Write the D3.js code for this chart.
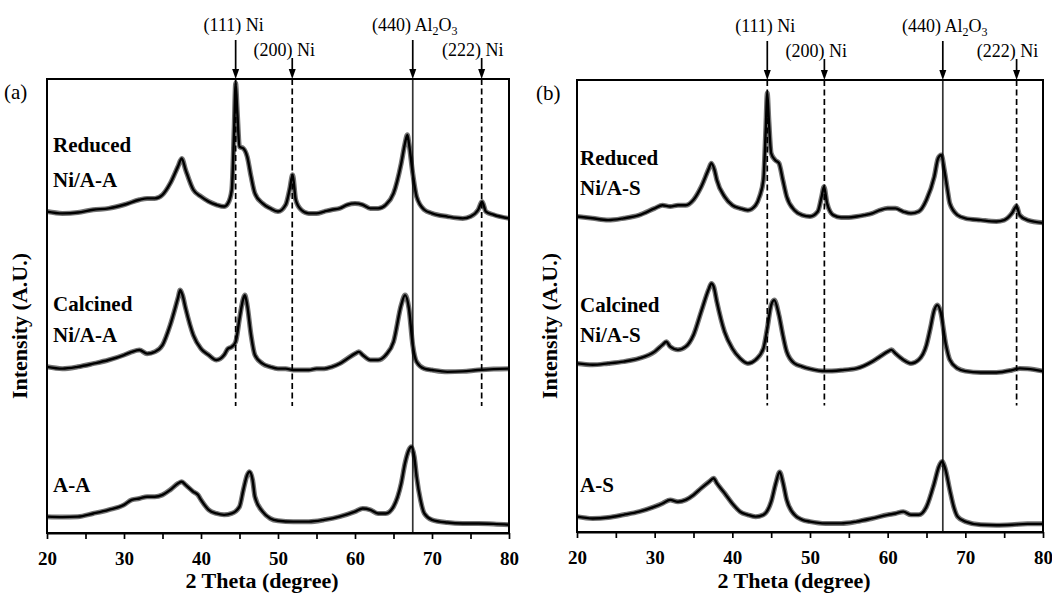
<!DOCTYPE html>
<html>
<head>
<meta charset="utf-8">
<script src="https://cdn.jsdelivr.net/npm/d3@7"></script>
<style>
  body { margin: 0; background: #fff; }
  svg { display: block; }
  text { font-family: "Liberation Serif", "Times New Roman", "DejaVu Serif", serif; fill: #000; }
</style>
</head>
<body>
<svg id="chart" width="1052" height="594"></svg>
<script>
// ---- data (2 theta in degree, intensity in A.U. as stacked in the figure) ----
const theta_range = [20, 80];
const theta_ticks = [20, 25, 30, 35, 40, 45, 50, 55, 60, 65, 70, 75, 80];

const ref_names = ["(111) Ni", "(200) Ni", "(440) Al2O3", "(222) Ni"];
const ref_phase = ["Ni", "Ni", "Al2O3", "Ni"];
const ref_pos_a = [44.5, 51.85, 67.5, 76.45];
const ref_pos_b = [44.5, 51.85, 67.1, 76.6];

const names_a = [["Reduced", "Ni/A-A"], ["Calcined", "Ni/A-A"], ["A-A"]];
const names_b = [["Reduced", "Ni/A-S"], ["Calcined", "Ni/A-S"], ["A-S"]];

const reduced_AA = [[20,70.8],[22,70.4],[24,70.6],[26,71.2],[28,71.5],[30,72.3],[32,73.4],[33,73.7],[34,73.7],[35,74.5],[36,77.0],[37,80.7],[37.5,82.5],[38,80.0],[39,75.6],[40,74.1],[41,73.0],[42,72.3],[43,71.9],[43.5,72.6],[44,75.6],[44.3,88.8],[44.5,99.1],[44.7,93.2],[45,85.1],[45.5,84.7],[46,82.9],[46.5,78.5],[47,74.8],[48,72.6],[49,71.5],[50,70.8],[51,72.3],[51.5,75.6],[51.9,78.9],[52.3,73.4],[53,71.2],[54,70.4],[55,70.4],[56,70.8],[57,71.2],[58,71.5],[59,72.3],[60,72.6],[61,72.3],[62,71.5],[63,71.5],[64,72.3],[65,74.8],[66,81.4],[66.5,85.9],[66.8,87.7],[67,85.9],[67.5,79.2],[68,74.1],[69,71.2],[70,70.4],[72,69.7],[74,69.3],[75,69.7],[76,71.2],[76.5,73.0],[77,70.8],[78,70.1],[80,69.3]];

const calcined_AA = [[20,36.6],[22,36.2],[24,36.6],[26,37.3],[28,38.1],[30,39.2],[31,39.9],[32,40.3],[33,39.5],[34,39.9],[35,41.4],[36,45.8],[37,51.7],[37.3,53.5],[37.6,52.4],[38,49.5],[39,43.6],[40,40.6],[41,39.2],[42,38.1],[43,39.2],[43.5,40.6],[44,41.0],[44.5,42.1],[45,47.2],[45.5,51.7],[45.7,52.4],[46,50.2],[46.5,43.6],[47,39.2],[48,37.3],[49,36.6],[50,36.2],[51,36.2],[52,35.9],[53,35.9],[54,35.9],[55,36.2],[56,36.2],[57,36.6],[58,37.3],[59,38.4],[60,39.5],[60.5,39.9],[61,39.2],[62,38.1],[63,38.1],[64,39.2],[65,42.1],[66,50.2],[66.5,52.4],[67,49.5],[67.5,41.4],[68,37.7],[69,36.2],[70,35.9],[72,35.5],[74,35.6],[76,35.9],[78,36.1],[80,36.2]];

const support_AA = [[20,3.6],[22,3.5],[24,3.6],[26,4.3],[28,5.1],[30,6.2],[31,7.3],[32,7.6],[33,8.0],[34,8.0],[35,8.4],[36,9.5],[37,10.9],[37.5,11.3],[38,10.6],[39,9.1],[39.6,8.4],[40,7.3],[41,5.1],[42,4.3],[43,4.0],[44,4.3],[45,5.8],[45.5,9.5],[46,12.8],[46.3,13.5],[46.7,11.7],[47,8.0],[48,4.7],[49,3.2],[50,2.7],[52,2.5],[54,2.5],[56,2.9],[58,3.6],[60,4.7],[61,5.4],[62,5.1],[63,4.3],[64,4.3],[65,5.8],[66,10.9],[66.5,15.4],[67,18.3],[67.3,19.0],[67.7,16.8],[68,12.4],[68.5,7.3],[69,4.3],[70,2.9],[72,2.3],[74,2.1],[76,2.1],[78,2.0],[80,1.8]];

const reduced_AS = [[20,69.8],[22,69.4],[24,69.0],[26,69.4],[28,70.1],[30,71.6],[31,72.3],[32,72.0],[33,72.3],[34,72.3],[35,73.5],[36,76.4],[37,80.5],[37.3,81.6],[37.7,80.1],[38,77.9],[39,74.2],[40,72.3],[41,71.6],[42,71.2],[43,72.3],[43.5,74.2],[44,77.9],[44.3,88.9],[44.5,97.1],[44.7,91.2],[45,83.8],[45.5,82.3],[46,81.6],[46.5,77.9],[47,74.2],[48,71.2],[49,70.1],[50,69.8],[51,70.9],[51.5,74.2],[51.8,76.4],[52.2,72.7],[53,70.1],[54,69.6],[55,69.6],[56,69.8],[57,70.1],[58,70.5],[59,71.2],[60,71.6],[61,71.6],[62,70.9],[63,70.5],[64,70.9],[65,73.5],[66,78.6],[66.5,82.7],[66.9,83.4],[67.3,80.1],[67.7,75.7],[68,72.7],[69,70.1],[70,69.4],[72,69.0],[74,68.7],[75,69.0],[76,70.5],[76.6,72.1],[77,70.1],[78,69.0],[80,68.4]];

const calcined_AS = [[20,37.3],[22,37.0],[24,37.3],[26,37.7],[28,38.4],[30,39.9],[31,41.4],[31.5,42.1],[32,41.0],[33,40.3],[34,41.0],[35,43.6],[36,48.8],[37,53.9],[37.3,55.0],[37.6,54.3],[38,51.0],[39,44.3],[40,40.6],[41,38.4],[42,37.3],[43,38.1],[44,40.6],[44.5,45.1],[45,50.2],[45.4,51.3],[46,48.0],[46.5,43.6],[47,39.9],[48,37.3],[49,36.6],[50,36.1],[52,35.6],[54,35.8],[56,36.2],[58,37.7],[59,38.8],[60,39.9],[60.5,40.3],[61,39.5],[62,38.1],[63,37.3],[64,38.1],[65,41.4],[65.5,45.1],[66,49.1],[66.4,50.2],[66.8,48.8],[67.5,41.4],[68,38.1],[69,36.2],[70,35.6],[72,35.3],[74,35.3],[76,35.8],[77,36.2],[78,36.1],[80,35.6]];

const support_AS = [[20,3.4],[22,3.0],[24,3.2],[26,3.8],[28,4.5],[30,5.6],[31,6.3],[32,7.1],[33,6.7],[34,7.1],[35,8.2],[36,9.7],[37,11.1],[37.6,11.9],[38,10.8],[39,8.6],[40,6.3],[41,4.5],[42,3.8],[43,3.4],[44,3.8],[45,6.7],[45.6,10.8],[46.1,13.3],[46.5,11.1],[47,7.1],[48,3.8],[49,2.7],[50,2.3],[52,1.9],[54,1.9],[56,2.3],[58,3.0],[60,3.8],[61,4.1],[62,4.5],[63,3.8],[64,3.8],[65,5.6],[66,10.8],[66.6,14.5],[67,15.6],[67.4,14.1],[68,9.3],[68.5,5.6],[69,3.4],[70,2.3],[72,1.6],[74,1.5],[76,1.6],[78,1.8],[80,1.8]];

// ---- chart ----
class XRDPanel {

    constructor( config, data ) {
        this.config = {
            parent: config.parent,
            left: config.left,
            top: config.top,
            width: config.width,
            height: config.height,
            tag: config.tag,
            tag_x: config.tag_x,
            name_x: config.name_x,
            name_y: config.name_y,
        }
        this.data = data;
        this.init();
    }

    init() {
        let self = this;

        self.chart = self.config.parent.append('g')
            .attr('transform', `translate(${self.config.left}, ${self.config.top})`);

        self.xscale = d3.scaleLinear()
            .domain( theta_range )
            .range( [0, self.config.width] );

        self.yscale = d3.scaleLinear()
            .domain( [0, 100] )
            .range( [self.config.height, 0] );

        self.xaxis = d3.axisBottom( self.xscale )
            .tickValues( theta_ticks )
            .tickSize( 6 )
            .tickSizeOuter( 0 )
            .tickFormat( d => d % 10 === 0 ? d : '' );

        self.xaxis_group = self.chart.append('g')
            .attr('transform', `translate(0, ${self.config.height})`);

        self.line = d3.line()
            .x( d => self.xscale( d[0] ) )
            .y( d => self.yscale( d[1] ) )
            .curve( d3.curveMonotoneX );
    }

    render() {
        let self = this;
        const h = self.config.height;

        // reflection marker lines
        const refs = self.data.refs.map( (p, i) => ({ pos: p, name: ref_names[i], phase: ref_phase[i], high: i % 2 === 0 }) );

        self.chart.selectAll('.ref')
            .data( refs )
            .enter()
            .append('line')
            .attr('x1', d => self.xscale( d.pos ) )
            .attr('x2', d => self.xscale( d.pos ) )
            .attr('y1', 0)
            .attr('y2', d => d.phase === 'Ni' ? self.yscale( 28 ) : h )
            .attr('stroke', d => d.phase === 'Ni' ? '#000' : '#333')
            .attr('stroke-width', 1.7)
            .attr('stroke-dasharray', d => d.phase === 'Ni' ? '6,3.5' : null);

        // arrows above the frame
        self.chart.selectAll('.arrow')
            .data( refs )
            .enter()
            .append('line')
            .attr('x1', d => self.xscale( d.pos ) )
            .attr('x2', d => self.xscale( d.pos ) )
            .attr('y1', d => d.high ? -39 : -21 )
            .attr('y2', -6)
            .attr('stroke', '#000')
            .attr('stroke-width', 1.7);

        self.chart.selectAll('.head')
            .data( refs )
            .enter()
            .append('path')
            .attr('d', d => {
                const x = self.xscale( d.pos );
                return `M${x - 3.5},-10 L${x + 3.5},-10 L${x},0 Z`;
            })
            .attr('fill', '#000');

        const ref_dx = [-2, -8, 2, -9];
        const ref_text = self.chart.selectAll('.ref-label')
            .data( refs )
            .enter()
            .append('text')
            .attr('x', (d, i) => self.xscale( d.pos ) + ref_dx[i] )
            .attr('y', d => d.high ? -48 : -23 )
            .attr('text-anchor', 'middle')
            .attr('font-size', '18px');

        ref_text.each( function (d) {
            const t = d3.select(this);
            if ( d.name.includes('Al2O3') ) {
                t.append('tspan').text('(440) Al');
                t.append('tspan').attr('font-size', '12px').attr('dy', 4).text('2');
                t.append('tspan').attr('dy', -4).text('O');
                t.append('tspan').attr('font-size', '12px').attr('dy', 4).text('3');
            } else {
                t.text( d.name );
            }
        });

        // diffraction patterns: noisy band under a dark core
        self.chart.selectAll('.band')
            .data( self.data.traces )
            .enter()
            .append('path')
            .attr('d', d => self.line( d ) )
            .attr('fill', 'none')
            .attr('stroke', '#000')
            .attr('stroke-opacity', 0.55)
            .attr('stroke-width', 5)
            .attr('stroke-linejoin', 'round');

        self.chart.selectAll('.trace')
            .data( self.data.traces )
            .enter()
            .append('path')
            .attr('d', d => self.line( d ) )
            .attr('fill', 'none')
            .attr('stroke', '#000')
            .attr('stroke-width', 2.4)
            .attr('stroke-linejoin', 'round');

        // sample names
        const names = self.chart.selectAll('.name')
            .data( self.data.names )
            .enter()
            .append('text')
            .attr('font-size', '21px')
            .attr('font-weight', 'bold');

        names.each( function (d, i) {
            const t = d3.select(this);
            const ys = self.config.name_y[i];
            d.forEach( (s, j) => {
                t.append('tspan')
                    .attr('x', self.config.name_x)
                    .attr('y', ys[j])
                    .text( s );
            });
        });

        // frame
        self.chart.append('rect')
            .attr('width', self.config.width)
            .attr('height', h)
            .attr('fill', 'none')
            .attr('stroke', '#000')
            .attr('stroke-width', 2);

        self.xaxis_group
            .call( self.xaxis );
        self.xaxis_group.select('.domain')
            .attr('stroke-width', 2.2);
        self.xaxis_group.selectAll('.tick line')
            .attr('stroke-width', 1.7);
        self.xaxis_group.selectAll('.tick text')
            .attr('font-family', '"Liberation Serif", "Times New Roman", serif')
            .attr('font-size', '19px')
            .attr('font-weight', 'bold')
            .attr('dy', '0.72em')
            .attr('y', 18);

        self.chart.append('text')
            .attr('x', self.config.width / 2 - 16)
            .attr('y', 588 - self.config.top)
            .attr('text-anchor', 'middle')
            .attr('font-size', '22px')
            .attr('font-weight', 'bold')
            .text('2 Theta (degree)');

        self.chart.append('text')
            .attr('x', self.config.tag_x)
            .attr('y', 20)
            .attr('font-size', '21px')
            .text( self.config.tag );
    }
}

const svg = d3.select('#chart');

const panel_a = new XRDPanel({
    parent: svg, left: 47, top: 79, width: 462, height: 454, tag: '(a)', tag_x: -43,
    name_x: 6, name_y: [[73, 108], [232, 263], [413]]
}, { traces: [reduced_AA, calcined_AA, support_AA], names: names_a, refs: ref_pos_a });
panel_a.render();

const panel_b = new XRDPanel({
    parent: svg, left: 577, top: 80, width: 466, height: 452, tag: '(b)', tag_x: -41,
    name_x: 3, name_y: [[85, 115], [232, 262], [412]]
}, { traces: [reduced_AS, calcined_AS, support_AS], names: names_b, refs: ref_pos_b });
panel_b.render();

[19, 549].forEach( x => {
    svg.append('text')
        .attr('transform', `translate(${x}, 326) rotate(-90)`)
        .attr('text-anchor', 'middle')
        .attr('dominant-baseline', 'central')
        .attr('font-size', '22px')
        .attr('font-weight', 'bold')
        .text('Intensity (A.U.)');
});
</script>
</body>
</html>
